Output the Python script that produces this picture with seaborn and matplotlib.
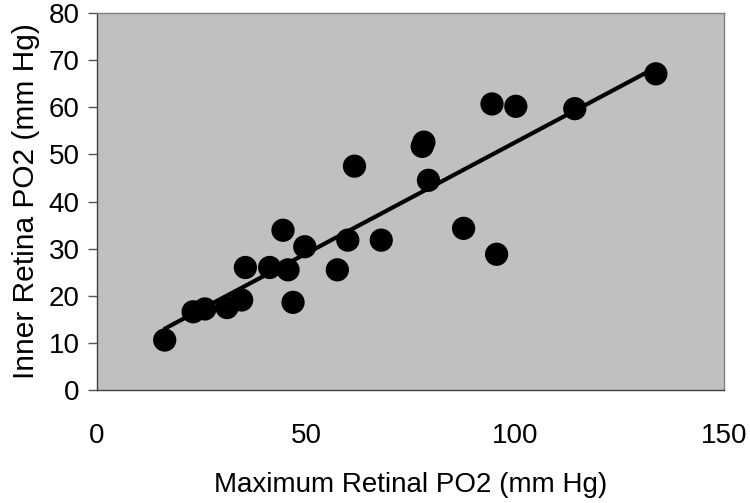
import matplotlib
matplotlib.use("Agg")
import matplotlib.pyplot as plt
import seaborn as sns
import pandas as pd

max_po2 = [16.2, 23.0, 25.8, 31.1, 34.6, 35.5, 41.3, 44.5, 45.7, 46.9, 49.7,
           57.5, 60.0, 68.0, 61.6, 78.2, 77.8, 79.3, 87.7, 95.6, 94.5, 100.2,
           114.3, 133.7]
inner_po2 = [10.6, 16.6, 17.2, 17.5, 19.1, 26.0, 26.0, 33.9, 25.5, 18.6, 30.4,
             25.5, 31.8, 31.8, 47.5, 52.6, 51.7, 44.5, 34.3, 28.8, 60.7, 60.2,
             59.7, 67.1]
x_ticks = [0, 50, 100, 150]
y_ticks = [0, 10, 20, 30, 40, 50, 60, 70, 80]

df = pd.DataFrame({"max": max_po2, "inner": inner_po2})

sns.set_style("white")
plt.rcParams["font.family"] = ["Liberation Sans", "DejaVu Sans"]
plt.rcParams["text.color"] = "black"
plt.rcParams["axes.labelcolor"] = "black"

fig = plt.figure(figsize=(7.5, 5.03), dpi=100)
ax = fig.add_axes([97 / 750, 1 - 390 / 503, (724 - 97) / 750, (390 - 13) / 503])
ax.set_facecolor("#C0C0C0")

sns.regplot(data=df, x="max", y="inner", ax=ax, ci=None, truncate=True,
            scatter_kws=dict(s=280, color="black", edgecolor="none", alpha=1, zorder=3),
            line_kws=dict(color="black", lw=3, zorder=2))

ax.set_xlim(0, 150)
ax.set_ylim(0, 80)
ax.set_xticks(x_ticks)
ax.set_yticks(y_ticks)
ax.tick_params(axis="x", length=0, pad=24, labelsize=20, labelcolor="black")
ax.tick_params(axis="y", length=6.5, width=1, direction="out", pad=6,
               labelsize=20, color="#555555", labelcolor="black", left=True)
for side in ["top", "right"]:
    ax.spines[side].set_color("#808080")
    ax.spines[side].set_linewidth(1)
for side in ["left", "bottom"]:
    ax.spines[side].set_color("#404040")
    ax.spines[side].set_linewidth(1)
ax.grid(False)
ax.set_xlabel("Maximum Retinal PO2 (mm Hg)", fontsize=20, labelpad=16, color="black")
ax.set_ylabel("Inner Retina PO2 (mm Hg)", fontsize=21.5, labelpad=6, color="black")

fig.savefig("out.png", dpi=100, facecolor="white")
